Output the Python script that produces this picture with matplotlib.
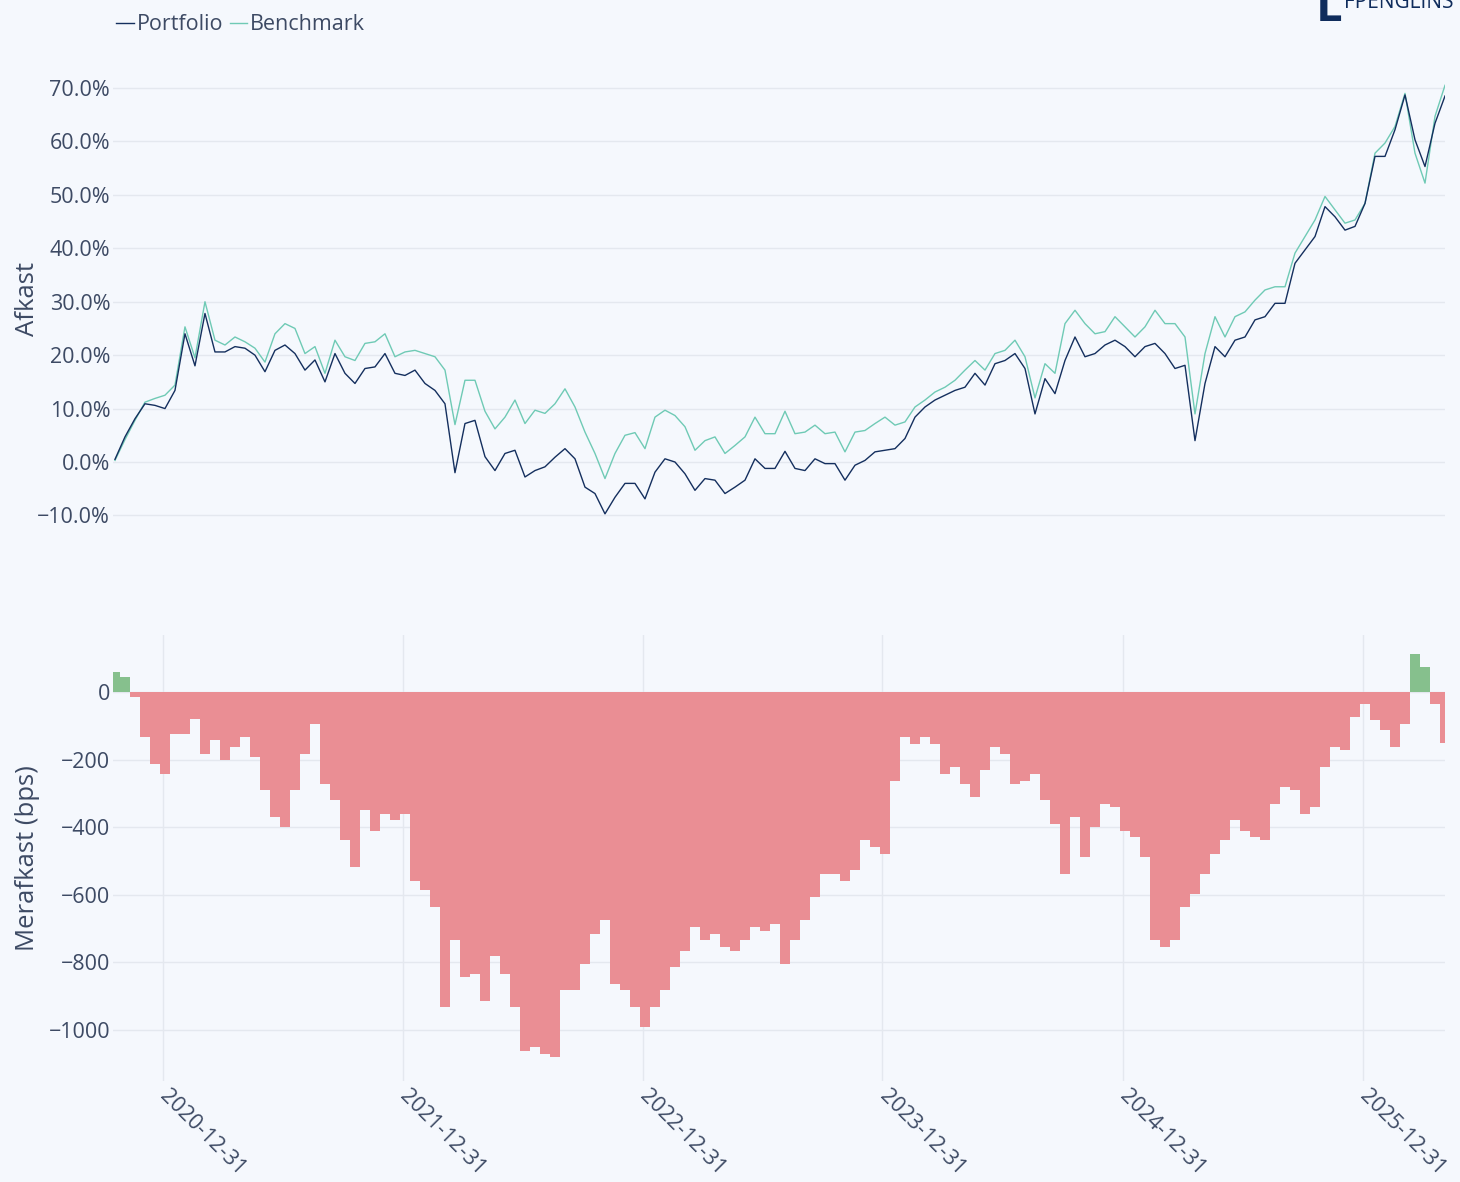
import matplotlib
matplotlib.use("Agg")
import matplotlib.pyplot as plt
import numpy as np
import pandas as pd

# sample dates (roughly every 15 days)
dates = pd.date_range("2020-10-19", "2026-05-05", periods=134)

# cumulative return in %
portfolio = [
    0.5, 4.7, 8.1, 10.9, 10.6, 10.0, 13.4, 24.0, 18.0, 27.8,
    20.6, 20.6, 21.6, 21.3, 20.0, 16.9, 20.9, 21.9, 20.3, 17.2,
    19.1, 15.0, 20.3, 16.6, 14.7, 17.5, 17.8, 20.3, 16.6, 16.2,
    17.2, 14.7, 13.4, 10.9, -2.0, 7.2, 7.8, 1.0, -1.6, 1.6,
    2.2, -2.8, -1.6, -0.9, 0.9, 2.5, 0.6, -4.7, -5.9, -9.7,
    -6.6, -4.0, -4.0, -6.9, -1.9, 0.6, 0.0, -2.2, -5.3, -3.1,
    -3.4, -5.9, -4.7, -3.4, 0.6, -1.2, -1.2, 2.0, -1.2, -1.6,
    0.6, -0.3, -0.3, -3.4, -0.6, 0.3, 1.9, 2.2, 2.5, 4.4,
    8.4, 10.3, 11.6, 12.5, 13.4, 14.0, 16.6, 14.4, 18.4, 19.0,
    20.3, 17.5, 9.0, 15.6, 12.8, 19.0, 23.4, 19.7, 20.3, 21.9,
    22.8, 21.6, 19.7, 21.6, 22.2, 20.3, 17.5, 18.1, 4.0, 14.7,
    21.6, 19.7, 22.8, 23.4, 26.6, 27.2, 29.7, 29.7, 37.2, 39.7,
    42.2, 47.8, 45.9, 43.4, 44.1, 48.4, 57.2, 57.2, 62.2, 68.7,
    60.3, 55.3, 63.4, 68.5,
]
benchmark = [
    0.3, 4.2, 7.8, 11.2, 11.9, 12.5, 14.4, 25.3, 19.5, 30.0,
    22.8, 21.9, 23.4, 22.5, 21.3, 18.7, 24.0, 25.9, 25.0, 20.3,
    21.6, 16.6, 22.8, 19.7, 19.0, 22.2, 22.5, 24.0, 19.7, 20.6,
    20.9, 20.3, 19.7, 17.2, 7.0, 15.3, 15.3, 9.5, 6.2, 8.4,
    11.6, 7.2, 9.7, 9.1, 10.9, 13.7, 10.3, 5.6, 1.6, -3.1,
    1.6, 5.0, 5.5, 2.5, 8.4, 9.7, 8.7, 6.6, 2.2, 4.0,
    4.7, 1.6, 3.1, 4.7, 8.4, 5.3, 5.3, 9.5, 5.3, 5.6,
    6.9, 5.3, 5.6, 1.9, 5.6, 5.9, 7.2, 8.4, 6.9, 7.5,
    10.3, 11.6, 13.1, 14.0, 15.3, 17.2, 19.0, 17.2, 20.3, 20.9,
    22.8, 19.7, 12.0, 18.4, 16.6, 25.9, 28.4, 25.9, 24.0, 24.4,
    27.2, 25.3, 23.4, 25.3, 28.4, 25.9, 25.9, 23.4, 9.0, 20.3,
    27.2, 23.4, 27.2, 28.1, 30.3, 32.2, 32.8, 32.8, 39.1, 42.2,
    45.3, 49.7, 47.2, 44.7, 45.3, 48.4, 57.8, 59.7, 62.8, 69.0,
    57.8, 52.2, 64.7, 70.5,
]

# excess return in bps
excess = [
    60, 45, -15, -133, -212, -242, -123, -123, -79, -183,
    -143, -202, -163, -133, -192, -291, -370, -400, -291, -183,
    -94, -271, -321, -439, -518, -350, -410, -360, -380, -360,
    -558, -587, -637, -933, -735, -844, -834, -913, -780, -834,
    -933, -1061, -1051, -1071, -1081, -883, -883, -804, -715, -676,
    -864, -883, -933, -992, -933, -883, -814, -765, -696, -735,
    -715, -755, -765, -735, -696, -706, -686, -804, -735, -676,
    -607, -538, -538, -558, -528, -439, -459, -479, -262, -133,
    -153, -133, -153, -242, -222, -271, -311, -232, -163, -183,
    -271, -262, -242, -321, -390, -538, -370, -489, -400, -331,
    -341, -410, -429, -489, -735, -755, -735, -637, -597, -538,
    -479, -439, -380, -410, -429, -439, -331, -281, -291, -360,
    -341, -222, -163, -173, -74, -35, -84, -113, -163, -94,
    113, 74, -35, -150,
]

year_ticks = pd.to_datetime(["2020-12-31", "2021-12-31", "2022-12-31",
                             "2023-12-31", "2024-12-31", "2025-12-31"])
pct_ticks = [-10, 0, 10, 20, 30, 40, 50, 60, 70]
bps_ticks = [0, -200, -400, -600, -800, -1000]

bg = "#f5f8fd"
txt = "#3d4a64"
grid = "#e4e8ef"
navy = "#142f5e"
teal = "#6fcab5"

plt.rcParams["font.family"] = ["Open Sans", "DejaVu Sans"]

W, H = 1460, 1182
fig = plt.figure(figsize=(W / 100, H / 100), dpi=100, facecolor=bg)


def px_axes(x0, y0, x1, y1):
    return fig.add_axes([x0 / W, 1 - y1 / H, (x1 - x0) / W, (y1 - y0) / H])


xmin = pd.Timestamp("2020-10-16")
xmax = pd.Timestamp("2026-05-05")

ax1 = px_axes(113, 69.3, 1445, 528.8)
ax2 = px_axes(113, 634.5, 1445, 1080.7)

for ax in (ax1, ax2):
    ax.set_facecolor(bg)
    for s in ax.spines.values():
        s.set_visible(False)
    ax.tick_params(length=0, colors=txt, labelsize=15.5)
    ax.tick_params(axis="y", pad=2)
    ax.set_xlim(xmin, xmax)
    ax.set_axisbelow(True)

# top panel
ax1.plot(dates, portfolio, color=navy, lw=1.0, label="Portfolio", zorder=3)
ax1.plot(dates, benchmark, color=teal, lw=1.0, label="Benchmark", zorder=2)
ax1.set_ylim(-12.5, 73.5)
ax1.set_yticks(pct_ticks)
ax1.set_yticklabels([f"{v:.1f}%".replace("-", "\u2212") for v in pct_ticks])
ax1.grid(axis="y", color=grid, lw=1)
ax1.set_xticks([])
ax1.set_ylabel("Afkast", color=txt, fontsize=18.5)
ax1.yaxis.set_label_coords(-0.055, 0.5)

# bottom panel
exc = np.array(excess)
colors = np.where(exc >= 0, "#86c08d", "#ea8e94")
ax2.bar(dates, exc, width=14.0, color=colors, linewidth=0, zorder=2)
ax2.set_ylim(-1150, 170)
ax2.set_yticks(bps_ticks)
ax2.grid(axis="both", color=grid, lw=1)
ax2.set_xticks(year_ticks)
ax2.set_xticklabels([d.strftime("%Y-%m-%d") for d in year_ticks],
                    rotation=-45, ha="left", va="center",
                    rotation_mode="anchor")
ax2.tick_params(axis="x", pad=9)
ax2.set_ylabel("Merafkast (bps)", color=txt, fontsize=18.5)
ax2.yaxis.set_label_coords(-0.055, 0.5)

fig.legend(loc="upper left", bbox_to_anchor=(97 / W, 1 + 5 / H), ncol=2,
           frameon=False, handlelength=0.8, handletextpad=0.15,
           columnspacing=0.3, fontsize=15.5, labelcolor=txt)

# partially visible logo in the top right corner
fig.text(1316 / W, 1 - 21 / H, "L", fontsize=34, fontweight="bold",
         color="#0f2c5c", va="baseline", ha="left")
fig.text(1344 / W, 1 - 8 / H, "FPENGLINS", fontsize=15, color="#0f2c5c",
         va="baseline", ha="left")

fig.savefig("out.png", dpi=100, facecolor=bg)
